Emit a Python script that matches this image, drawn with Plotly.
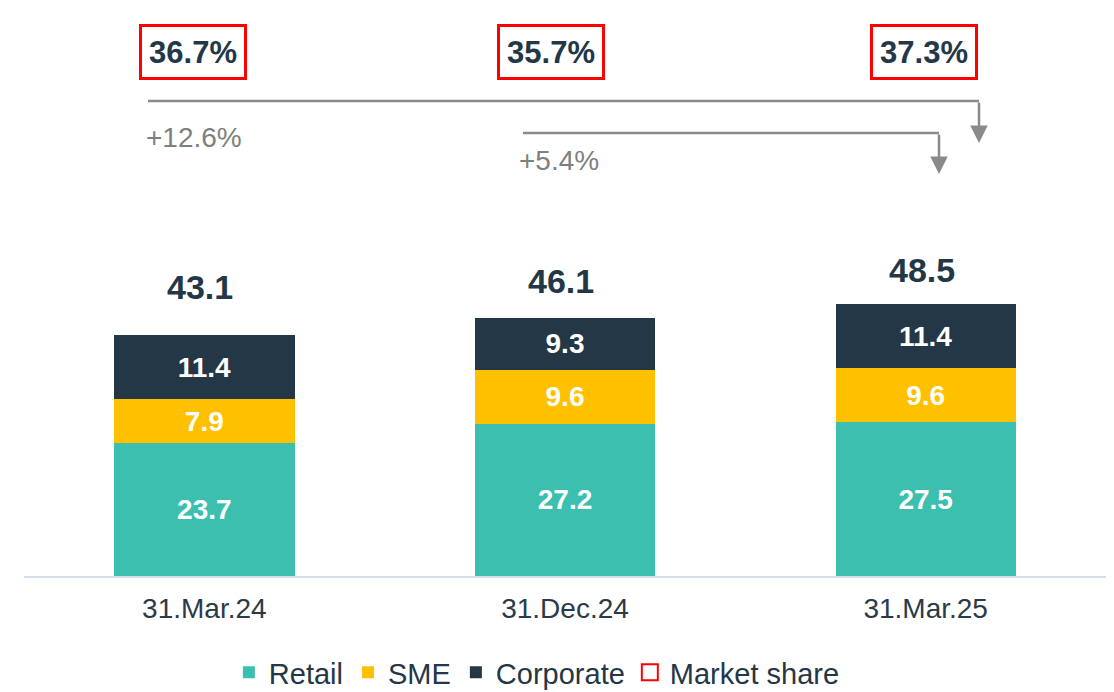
import plotly.graph_objects as go

dates = ["31.Mar.24", "31.Dec.24", "31.Mar.25"]
retail = [23.7, 27.2, 27.5]
sme = [7.9, 9.6, 9.6]
corporate = [11.4, 9.3, 11.4]
totals = [43.1, 46.1, 48.5]
market_share = ["36.7%", "35.7%", "37.3%"]
growth_labels = ["+12.6%", "+5.4%"]

TEAL = "#3CBFAE"
YELLOW = "#FFC000"
NAVY = "#243746"
RED = "#FF0000"
GREY = "#8A8A8A"
FONT = "Arial, Liberation Sans, sans-serif"
NARROW = "Arial Narrow, Liberation Sans Narrow, Arial, Liberation Sans, sans-serif"

W, H = 1114, 692
ML, MR, MT, MB = 24, 8, 0, 116
PLOT_H = H - MT - MB
UNIT = 5.6  # pixels per unit on the y axis
Y_MAX = PLOT_H / UNIT
X_MIN, X_MAX = -0.5, 2.5
PLOT_W = W - ML - MR


def xd(px):
    return X_MIN + (px - ML) / PLOT_W * (X_MAX - X_MIN)


def yd(py):
    return (MT + PLOT_H - py) / UNIT


xs = list(range(len(dates)))
fig = go.Figure()

for name, vals, col in [("Retail", retail, TEAL), ("SME", sme, YELLOW), ("Corporate", corporate, NAVY)]:
    fig.add_trace(go.Bar(
        x=xs, y=vals, name=name, width=0.5,
        marker=dict(color=col, line=dict(width=0)),
        text=[f"{v:.1f}" for v in vals],
        textposition="inside", insidetextanchor="middle", constraintext="none",
        textfont=dict(family=FONT, size=28, color="white", weight="bold"),
        hoverinfo="skip",
    ))

# legend entry for market share boxes
fig.add_trace(go.Scatter(
    x=[None], y=[None], mode="markers", name="Market share",
    marker=dict(symbol="square-open", size=22, color=RED, line=dict(width=2, color=RED)),
))

# totals above the bars
total_gap = [48, 37, 34]
for i, t in enumerate(totals):
    fig.add_annotation(
        x=i, y=t, yref="y", text=f"<b>{t:.1f}</b>", showarrow=False,
        yanchor="middle", yshift=total_gap[i], xshift=-4,
        font=dict(family=FONT, size=34, color=NAVY),
    )

# market share boxes
box_px = [193, 551, 924]
for px, s in zip(box_px, market_share):
    fig.add_annotation(
        x=xd(px), y=yd(52), text=f"<b>{s}</b>", showarrow=False,
        font=dict(family=NARROW, size=31, color=NAVY),
        bordercolor=RED, borderwidth=3, borderpad=3, width=96, height=44,
        bgcolor="white",
    )

# growth arrows
arrows = [
    (148, 979, 101, 143, growth_labels[0], 194, 137),
    (523, 939, 133, 174, growth_labels[1], 559, 160),
]
for x0, x1, y0, tip, lab, lx, ly in arrows:
    fig.add_shape(type="line", x0=xd(x0), x1=xd(x1), y0=yd(y0), y1=yd(y0),
                  line=dict(color=GREY, width=2.5))
    fig.add_annotation(
        x=xd(x1), y=yd(tip), ax=0, ay=-(tip - y0), text="", showarrow=True,
        arrowhead=2, arrowsize=1.4, arrowwidth=2.5, arrowcolor=GREY,
    )
    fig.add_annotation(
        x=xd(lx), y=yd(ly), text=lab, showarrow=False,
        font=dict(family=FONT, size=28, color="#7F7F7F"),
    )

fig.update_layout(
    width=W, height=H, barmode="stack",
    margin=dict(l=ML, r=MR, t=MT, b=MB),
    paper_bgcolor="white", plot_bgcolor="white",
    font=dict(family=FONT, color=NAVY),
    showlegend=True,
    legend=dict(
        orientation="h", x=0.474, xanchor="center",
        yref="container", y=0.065, yanchor="top",
        font=dict(family=FONT, size=29, color=NAVY),
        traceorder="normal", itemclick=False, tracegroupgap=0,
    ),
)
fig.update_xaxes(
    range=[X_MIN, X_MAX], tickvals=xs, ticktext=dates,
    showgrid=False, zeroline=False, showline=True, linecolor="#D6DFE9", linewidth=2,
    ticks="", ticklabelstandoff=6,
    tickfont=dict(family=FONT, size=28, color="#2B3A47"),
)
fig.update_yaxes(range=[0, Y_MAX], visible=False)

fig.write_html(
    "out.html",
    config={"displayModeBar": False},
    post_script="document.body.style.margin='0';document.body.style.overflow='hidden';",
)
